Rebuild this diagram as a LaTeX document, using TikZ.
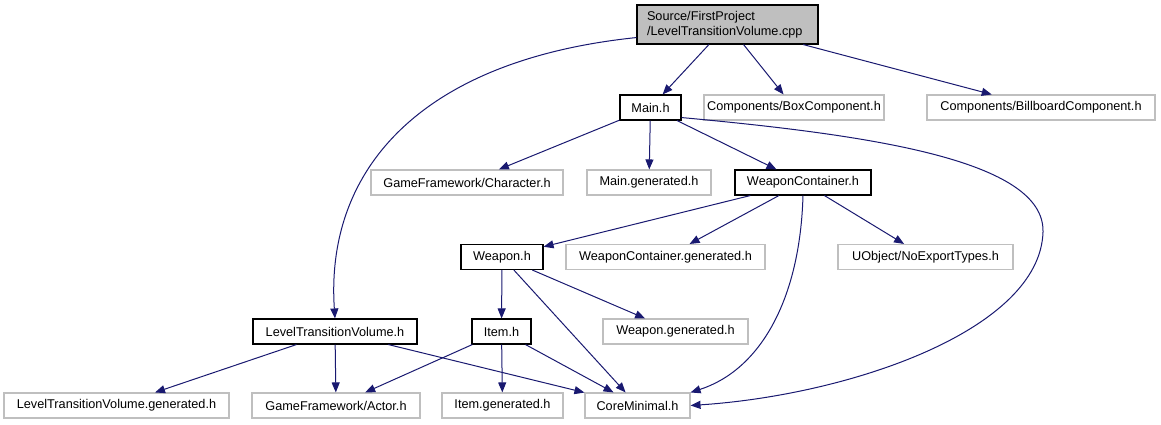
\documentclass[tikz,border=0pt]{standalone}
\usepackage{fontspec}
\setmainfont{Liberation Sans}
\usetikzlibrary{arrows.meta,calc}
\definecolor{edgeblue}{HTML}{191970}
\definecolor{lgray}{HTML}{BFBFBF}
\begin{document}
\begin{tikzpicture}[x=1pt,y=-1pt,
  every node/.style={font=\fontsize{12.7}{14.5}\selectfont, inner sep=0pt, minimum height=25pt},
  hbox/.style={draw=black, line width=1.1pt, fill=white},
  gbox/.style={draw=lgray, line width=1.1pt, fill=white},
  rootbox/.style={draw=black, line width=1.1pt, fill=lgray, align=left, minimum height=39pt, inner xsep=10pt, text width=161pt},
  edge/.style={draw=edgeblue, line width=1pt, -{Triangle[length=10pt,width=8pt]}}]
\useasboundingbox (0,0) rectangle (1161,425);
\node[rootbox] (root) at (727.5,24.5) {Source/FirstProject\\/LevelTransitionVolume.cpp};
\node[hbox, minimum width=61pt] (main) at (650.5,107.5) {Main.h};
\node[gbox, minimum width=180pt] (box) at (794,107.5) {Components/BoxComponent.h};
\node[gbox, minimum width=228pt] (bill) at (1041,107.5) {Components/BillboardComponent.h};
\node[gbox, minimum width=192pt] (char) at (467,182.5) {GameFramework/Character.h};
\node[gbox, minimum width=124pt] (maingen) at (649,182.5) {Main.generated.h};
\node[hbox, minimum width=136pt] (wc) at (803,182.5) {WeaponContainer.h};
\node[hbox, minimum width=82pt] (weapon) at (502,257) {Weapon.h};
\node[gbox, minimum width=199pt] (wcgen) at (665.5,257) {WeaponContainer.generated.h};
\node[gbox, minimum width=175pt] (noexp) at (925.5,257) {UObject/NoExportTypes.h};
\node[hbox, minimum width=164pt] (ltv) at (335,331.5) {LevelTransitionVolume.h};
\node[hbox, minimum width=59pt] (item) at (501.5,331.5) {Item.h};
\node[gbox, minimum width=145pt] (wgen) at (675.5,331.5) {Weapon.generated.h};
\node[gbox, minimum width=225pt] (ltvgen) at (116.5,405.5) {LevelTransitionVolume.generated.h};
\node[gbox, minimum width=168pt] (actor) at (336,405.5) {GameFramework/Actor.h};
\node[gbox, minimum width=121pt] (itemgen) at (502.5,405.5) {Item.generated.h};
\node[gbox, minimum width=105pt] (core) at (637.5,405.5) {CoreMinimal.h};

\draw[edge] (root) -- (main);
\draw[edge] (root) -- (box);
\draw[edge] (root) -- (bill);
\draw[edge] ($(root.south west)+(0,-7)$) .. controls (420,60) and (325,170) .. (ltv.north);
\draw[edge] (main) -- (char);
\draw[edge] (main) -- (maingen);
\draw[edge] (main) -- (wc);
\draw[edge] ($(main.south east)+(0,-3)$) .. controls (870,135) and (1045,160) .. (1043,232) .. controls (1040,330) and (850,395) .. (core.east);
\draw[edge] (wc) -- (weapon);
\draw[edge] (wc) -- (wcgen);
\draw[edge] (wc) -- (noexp);
\draw[edge] (wc.south) .. controls (800,300) and (760,370) .. (core.north east);
\draw[edge] (weapon) -- (item);
\draw[edge] (weapon) -- (wgen);
\draw[edge] (weapon) -- (core);
\draw[edge] (ltv) -- (ltvgen);
\draw[edge] (ltv) -- (actor);
\draw[edge] (ltv) -- (core);
\draw[edge] (item) -- (actor);
\draw[edge] (item) -- (itemgen);
\draw[edge] (item) -- (core);
\end{tikzpicture}
\end{document}
